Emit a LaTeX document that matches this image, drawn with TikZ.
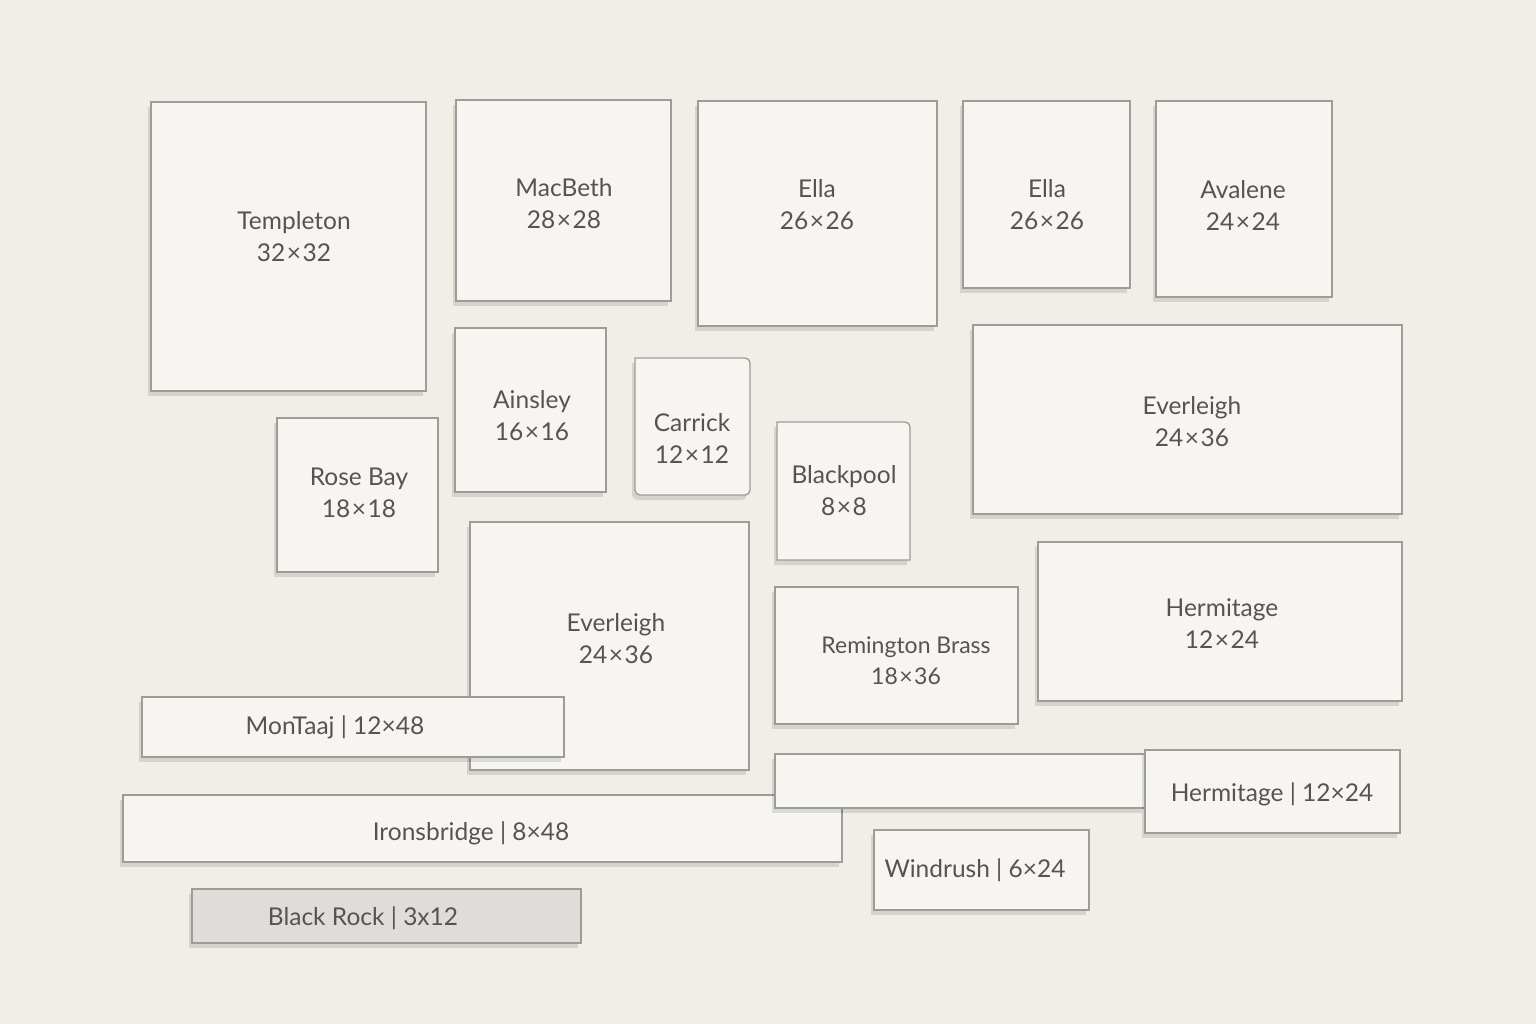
\documentclass[tikz,border=0pt]{standalone}
\usepackage{fontspec}
\setmainfont{Lato}
\definecolor{Wall} {HTML}{F1EEE7}
\definecolor{Paper}{HTML}{F6F5F1}
\definecolor{Stone}{HTML}{DFDDD9}
\definecolor{Edge} {HTML}{9E9C96}
\definecolor{Ink}  {HTML}{55544E}
\usetikzlibrary{shadows}
\newcommand\by{\kern1.5pt×\kern1.5pt}

\begin{document}
\begin{tikzpicture}[x=1pt,y=-1pt,
  panel/.style={draw=Edge,fill=Paper,line width=1.3pt,
                drop shadow={shadow xshift=-3pt,shadow yshift=-5pt,
                             opacity=.11,fill=black}},
  lbl/.style={text=Ink,align=center,font=\fontsize{24.5}{32}\selectfont},
  small/.style={lbl,font=\fontsize{23}{31}\selectfont}]
  \fill[Wall] (0,0) rectangle (1536,1024);
  \useasboundingbox (0,0) rectangle (1536,1024);
  % top row
  \draw[panel] (151,102) rectangle (426,391);
  \node[lbl] (templeton) at (294,237) {Templeton\\32\by32};
  \draw[panel] (456,100) rectangle (671,301);
  \node[lbl] (macbeth) at (564,204) {MacBeth\\28\by28};
  \draw[panel] (698,101) rectangle (937,326);
  \node[lbl] (ellaA) at (817,205) {Ella\\26\by26};
  \draw[panel] (963,101) rectangle (1130,288);
  \node[lbl] (ellaB) at (1047,205) {Ella\\26\by26};
  \draw[panel] (1156,101) rectangle (1332,297);
  \node[lbl] (avalene) at (1243,205) {Avalene\\24\by24};
  % middle
  \draw[panel] (455,328) rectangle (606,492);
  \node[lbl] (ainsley) at (532,416) {Ainsley\\16\by16};
  \draw[panel] (635,358) [rounded corners=5pt] -- (750,358) -- (750,495)
        -- (635,495) [sharp corners] -- cycle;
  \node[lbl] (carrick) at (692,438) {Carrick\\12\by12};
  \draw[panel] (777,422) [rounded corners=5pt] -- (910,422)
        [sharp corners] -- (910,560) -- (777,560) -- cycle;
  \node[lbl] (blackpool) at (844,491) {Blackpool\\8\by8};
  \draw[panel] (277,418) rectangle (438,572);
  \node[lbl] (rosebay) at (359,493) {Rose Bay\\18\by18};
  \draw[panel] (973,325) rectangle (1402,514);
  \node[lbl] (everleighA) at (1192,422) {Everleigh\\24\by36};
  \draw[panel] (470,522) rectangle (749,770);
  \node[lbl] (everleighB) at (616,639) {Everleigh\\24\by36};
  \draw[panel] (775,587) rectangle (1018,724);
  \node[small] (remington) at (906,661) {Remington Brass\\18\by36};
  \draw[panel] (1038,542) rectangle (1402,701);
  \node[lbl] (hermitageA) at (1222,624) {Hermitage\\12\by24};
  % strips
  \draw[panel] (142,697) rectangle (564,757);
  \node[lbl] (montaaj) at (335,727) {MonTaaj | 12×48};
  \draw[panel] (123,795) rectangle (842,862);
  \node[lbl] (ironsbridge) at (471,833) {Ironsbridge | 8×48};
  \draw[panel] (775,754) rectangle (1145,808);
  \draw[panel] (1145,750) rectangle (1400,833);
  \node[lbl] (hermitageB) at (1272,794) {Hermitage | 12×24};
  \draw[panel] (874,830) rectangle (1089,910);
  \node[lbl] (windrush) at (975,870) {Windrush | 6×24};
  \draw[panel,fill=Stone] (192,889) rectangle (581,943);
  \node[lbl] (blackrock) at (363,918) {Black Rock | 3x12};
\end{tikzpicture}
\end{document}
